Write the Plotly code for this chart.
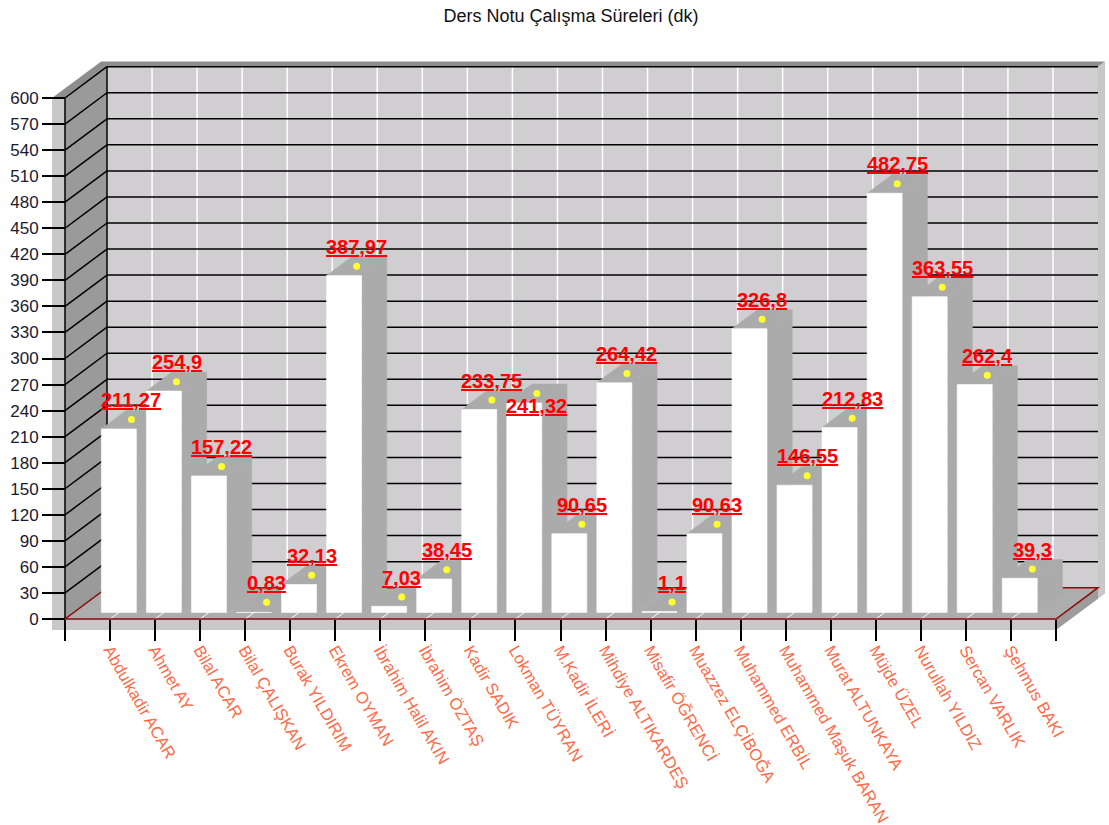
import plotly.graph_objects as go

# ---- data -------------------------------------------------------------
title_text = "Ders Notu Çalışma Süreleri (dk)"
students = [
    "Abdulkadir ACAR", "Ahmet AY", "Bilal ACAR", "Bilal ÇALIŞKAN", "Burak YILDIRIM",
    "Ekrem OYMAN", "İbrahim Halil AKIN", "İbrahim ÖZTAŞ", "Kadir SADIK", "Lokman TÜYRAN",
    "M.Kadir İLERİ", "Mihdiye ALTIKARDEŞ", "Misafir ÖĞRENCİ", "Muazzez ELÇİBOĞA",
    "Muhammed ERBİL", "Muhammed Maşuk BARAN", "Murat ALTUNKAYA", "Müjde ÜZEL",
    "Nurullah YILDIZ", "Sercan VARLIK", "Şehmus BAKI",
]
minutes = [
    211.27, 254.9, 157.22, 0.83, 32.13, 387.97, 7.03, 38.45, 233.75, 241.32, 90.65,
    264.42, 1.1, 90.63, 326.8, 146.55, 212.83, 482.75, 363.55, 262.4, 39.3,
]
y_ticks = list(range(0, 601, 30))
y_max = 600

# ---- layout geometry (pixels of the 1109x825 page) --------------------
W, H = 1109, 825
plot_l, plot_r, plot_t, plot_b = 40, 1108, 55, 650
x0_px, x1_px = 65, 1056          # front floor edge ends
v0_px, vmax_px = 619, 98         # front plane: value 0 and value 600

n = len(students)
x_end = n + 1
sx = (x1_px - x0_px) / x_end
sy = (v0_px - vmax_px) / y_max
x_range = [(plot_l - x0_px) / sx, (plot_r - x0_px) / sx]
y_range = [(v0_px - plot_b) / sy, (v0_px - plot_t) / sy]

# oblique depth of the chart box, in axis units
DX = 42 / sx
DV = 31.3 / sy
# wall / floor slab thickness
TX = 13 / sx
TV = 11 / sy
BACK_EXTRA = 0.17
# bar footprint: width along x, depth fraction span
BW = 35 / sx
F1, F2 = 0.21, 0.81

# ---- colours ------------------------------------------------------------
BACK_WALL = "#d0ced0"
SIDE_WALL = "#9b9a9b"
FLOOR = "#aeadae"
SLAB_FRONT = "#c9c8c9"
SLAB_TOP = "#8f8e8f"
SLAB_RIGHT = "#9d9c9d"
BAR_FRONT = "#ffffff"
BAR_SHADE = "#acabac"
ZERO_LINE = "#8b0a0a"
LABEL_RED = "#ff0000"
TICK_TEXT = "#1a1a30"
CAT_TEXT = "#ff6a48"


def path(pts):
    return "M " + " L ".join(f"{x:.5f},{y:.5f}" for x, y in pts) + " Z"


def face(pts, color):
    return dict(type="path", path=path(pts), xref="x", yref="y", layer="below",
                fillcolor=color, line=dict(width=0))


def seg(xa, ya, xb, yb, color, width):
    return dict(type="line", x0=xa, y0=ya, x1=xb, y1=yb, xref="x", yref="y",
                layer="below", line=dict(color=color, width=width))


shapes = []
# back wall
shapes.append(face([(DX, DV), (x_end + DX, DV), (x_end + DX, y_max + DV), (DX, y_max + DV)], BACK_WALL))
# left wall inner face
shapes.append(face([(0, 0), (DX, DV), (DX, y_max + DV), (0, y_max)], SIDE_WALL))
# floor
shapes.append(face([(0, 0), (x_end, 0), (x_end + DX, DV), (DX, DV)], FLOOR))
# slabs: left wall front, floor front, floor right, top band, back wall right edge
shapes.append(face([(-TX, -TV), (0, -TV), (0, y_max), (-TX, y_max)], SLAB_FRONT))
shapes.append(face([(-TX, -TV), (x_end, -TV), (x_end, 0), (-TX, 0)], SLAB_FRONT))
shapes.append(face([(x_end, 0), (x_end + DX, DV), (x_end + DX, DV - TV), (x_end, -TV)], SLAB_RIGHT))
shapes.append(face([
    (-TX, y_max), (0, y_max), (DX, y_max + DV), (x_end + DX, y_max + DV),
    (x_end + (1 + BACK_EXTRA) * DX, y_max + (1 + BACK_EXTRA) * DV),
    (-TX + (1 + BACK_EXTRA) * DX, y_max + (1 + BACK_EXTRA) * DV),
], SLAB_TOP))
shapes.append(face([
    (x_end + DX, DV - TV), (x_end + (1 + BACK_EXTRA) * DX, (1 + BACK_EXTRA) * DV - TV),
    (x_end + (1 + BACK_EXTRA) * DX, y_max + (1 + BACK_EXTRA) * DV), (x_end + DX, y_max + DV),
], SLAB_FRONT))

# vertical grid: white lines on back wall and floor
for k in range(1, x_end):
    shapes.append(seg(k + DX, DV, k + DX, y_max + DV, "#ffffff", 1.5))
    shapes.append(seg(k, 0, k + DX, DV, "#ffffff", 1))
# horizontal grid: back wall and left wall
for v in y_ticks[1:]:
    shapes.append(seg(DX, v + DV, x_end + DX, v + DV, "#000000", 1.5))
    shapes.append(seg(0, v, DX, v + DV, "#000000", 1.5))
# box edges
shapes.append(seg(DX, DV, DX, y_max + DV, "#000000", 1.5))
shapes.append(seg(0, 0, 0, y_max, "#000000", 1.5))
# zero line around the floor
shapes.append(dict(type="path", xref="x", yref="y", layer="below",
                   path=path([(0, 0), (x_end, 0), (x_end + DX, DV), (DX, DV)]),
                   line=dict(color=ZERO_LINE, width=1.5)))

fig = go.Figure()

# 3D bars: right side, top, then front face, drawn left to right
for k, v in enumerate(minutes, start=1):
    xl, xr = k - BW / 2, k + BW / 2
    side = [(xr + F1 * DX, F1 * DV), (xr + F2 * DX, F2 * DV),
            (xr + F2 * DX, v + F2 * DV), (xr + F1 * DX, v + F1 * DV)]
    top = [(xl + F1 * DX, v + F1 * DV), (xr + F1 * DX, v + F1 * DV),
           (xr + F2 * DX, v + F2 * DV), (xl + F2 * DX, v + F2 * DV)]
    front = [(xl + F1 * DX, F1 * DV), (xr + F1 * DX, F1 * DV),
             (xr + F1 * DX, v + F1 * DV), (xl + F1 * DX, v + F1 * DV)]
    for pts, col in ((side, BAR_SHADE), (top, BAR_SHADE), (front, BAR_FRONT)):
        fig.add_trace(go.Scatter(
            x=[p[0] for p in pts] + [pts[0][0]],
            y=[p[1] for p in pts] + [pts[0][1]],
            mode="lines", fill="toself", fillcolor=col,
            line=dict(color=col, width=0.6),
            hoverinfo="skip", showlegend=False,
        ))

# yellow point markers at the centre of each bar top
mid = (F1 + F2) / 2
fig.add_trace(go.Scatter(
    x=[k + mid * DX for k in range(1, n + 1)],
    y=[v + mid * DV for v in minutes],
    mode="markers", marker=dict(color="#ffff30", size=7, line=dict(width=0)),
    hoverinfo="skip", showlegend=False,
))

# value labels (one label is nudged down to avoid its neighbour)
label_yshift = {"Lokman TÜYRAN": -32}
annotations = []
for k, (name, v) in enumerate(zip(students, minutes), start=1):
    txt = f"{v:g}".replace(".", ",")
    annotations.append(dict(
        x=k + mid * DX, y=v + F2 * DV, xref="x", yref="y",
        text=f"<b><u>{txt}</u></b>", showarrow=False,
        xanchor="center", yanchor="bottom", borderpad=0,
        yshift=-2 + label_yshift.get(name, 0),
        font=dict(family="Liberation Sans", size=20, color=LABEL_RED),
    ))

fig.update_layout(
    width=W, height=H,
    margin=dict(l=plot_l, r=W - plot_r, t=plot_t, b=H - plot_b, pad=0, autoexpand=False),
    paper_bgcolor="white", plot_bgcolor="white",
    shapes=shapes, annotations=annotations,
    showlegend=False,
    title=dict(text=title_text, x=571 / W, xanchor="center", y=1 - 16 / H, yanchor="middle",
               xref="container", yref="container", automargin=False,
               font=dict(family="Liberation Sans", size=18, color="#111111")),
    xaxis=dict(
        range=x_range, anchor="free", position=(plot_b - v0_px) / (plot_b - plot_t),
        automargin=False,
        tickmode="array", tickvals=list(range(0, x_end + 1)),
        ticktext=[""] + students + [""],
        ticks="outside", ticklen=21, tickwidth=1.5, tickcolor="#000000",
        ticklabelstandoff=-7,
        tickangle=60, tickfont=dict(family="Liberation Sans", size=16.5, color=CAT_TEXT),
        showgrid=False, zeroline=False, showline=False, fixedrange=True,
    ),
    yaxis=dict(
        range=y_range, anchor="free", position=(x0_px - plot_l) / (plot_r - plot_l),
        automargin=False,
        tickmode="array", tickvals=y_ticks,
        ticks="outside", ticklen=23, tickwidth=1.5, tickcolor="#000000",
        tickfont=dict(family="Liberation Sans", size=17, color=TICK_TEXT),
        showgrid=False, zeroline=False, showline=False, fixedrange=True,
    ),
)

fig.write_html("out.html")
